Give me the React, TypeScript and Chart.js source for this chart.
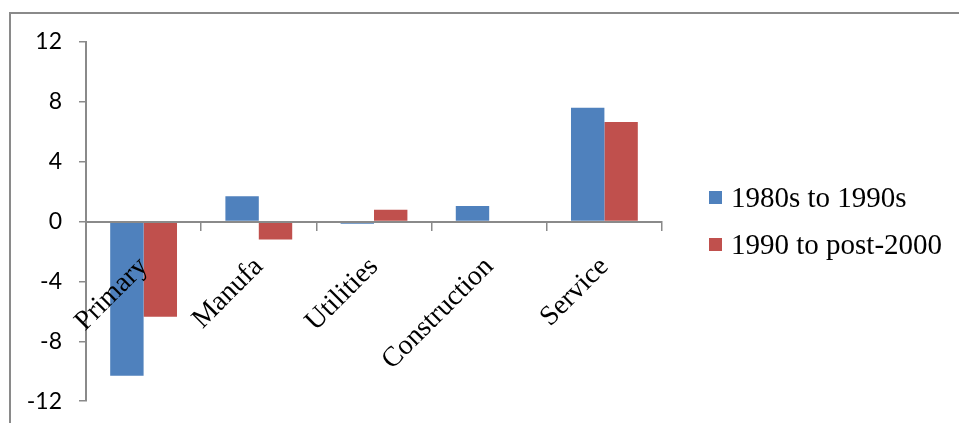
import React, { useEffect, useRef } from "react";
import { Chart, registerables } from "chart.js";

Chart.register(...registerables);

const categories = ["Primary", "Manufa", "Utilities", "Construction", "Service"];
const series1980s = [-10.3, 1.7, -0.15, 1.05, 7.6];
const series1990 = [-6.35, -1.2, 0.8, 0, 6.65];
const seriesNames = ["1980s to 1990s", "1990 to post-2000"];
const yTicks = [-12, -8, -4, 0, 4, 8, 12];

const BLUE = "#4F81BD";
const RED = "#C0504D";
const AXIS = "#8a8a8a";
const SERIF = "'Liberation Serif', 'Times New Roman', serif";
const seriesColors = [BLUE, RED];

export default function App() {
  const ref = useRef<HTMLCanvasElement>(null);

  useEffect(() => {
    if (!ref.current) return;
    const chart = new Chart(ref.current, {
      type: "bar",
      data: {
        labels: categories,
        datasets: [
          { label: seriesNames[0], data: series1980s, backgroundColor: BLUE, categoryPercentage: 0.58, barPercentage: 1 },
          { label: seriesNames[1], data: series1990, backgroundColor: RED, categoryPercentage: 0.58, barPercentage: 1 },
        ],
      },
      options: {
        animation: false,
        responsive: false,
        maintainAspectRatio: false,
        layout: { padding: { top: 42, bottom: 13, left: 0, right: 297 } },
        plugins: {
          tooltip: { enabled: false },
          legend: { display: false },
        },
        scales: {
          x: {
            position: { y: 0 } as any,
            grid: {
              display: true,
              drawOnChartArea: false,
              drawTicks: true,
              tickLength: 8,
              color: AXIS,
              lineWidth: 1.5,
              offset: true,
              z: 1,
            },
            border: { display: true, color: AXIS, width: 2, z: 1 },
            ticks: {
              minRotation: 45,
              maxRotation: 45,
              autoSkip: false,
              padding: 21,
              color: "#000",
              font: { family: SERIF, size: 28 },
              z: 2,
            },
          },
          y: {
            position: "left",
            min: -12,
            max: 12,
            afterBuildTicks: (s: any) => {
              s.ticks = yTicks.map((v) => ({ value: v }));
            },
            afterFit: (s: any) => {
              s.width = 86;
            },
            grid: {
              display: true,
              drawOnChartArea: false,
              drawTicks: true,
              tickLength: 7,
              color: AXIS,
              lineWidth: 1.5,
            },
            border: { display: true, color: AXIS, width: 2 },
            ticks: {
              padding: 17,
              color: "#000",
              font: { family: "Lato, 'Open Sans', sans-serif", size: 23 },
            },
          },
        },
      } as any,
    });
    return () => chart.destroy();
  }, []);

  return (
    <div style={{ position: "fixed", left: 0, top: 0, width: 959, height: 423, overflow: "hidden", background: "#fff" }}>
      <div
        style={{
          position: "absolute",
          left: 9,
          top: 12,
          width: 2000,
          height: 2000,
          border: `2px solid ${AXIS}`,
          boxSizing: "border-box",
        }}
      />
      <canvas ref={ref} width={959} height={432} style={{ position: "absolute", left: 0, top: 0 }} />
      {seriesNames.map((name, i) => (
        <div
          key={name}
          style={{
            position: "absolute",
            left: 709,
            top: 181 + i * 47,
            height: 32,
            display: "flex",
            alignItems: "center",
            whiteSpace: "nowrap",
            fontFamily: SERIF,
            fontSize: 29,
            color: "#000",
          }}
        >
          <span style={{ display: "inline-block", width: 13, height: 13, background: seriesColors[i], marginRight: 9 }} />
          <span>{name}</span>
        </div>
      ))}
    </div>
  );
}
